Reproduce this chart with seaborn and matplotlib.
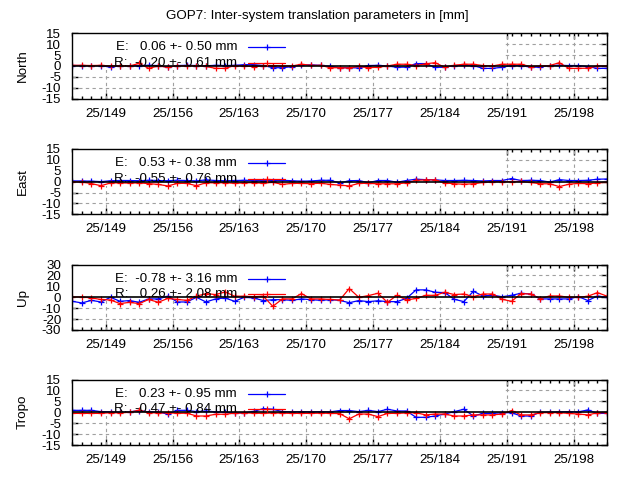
import matplotlib
matplotlib.use("Agg")
import matplotlib.pyplot as plt
import matplotlib.ticker as ticker
from matplotlib.patches import Rectangle
import numpy as np
import seaborn as sns

# %% DATOS
titulo = "GOP7: Inter-system translation parameters in [mm]"

# epocas diarias (mediodia), dia del anio 2025
dias = np.arange(145, 202) + 0.5
dias_tick = [149, 156, 163, 170, 177, 184, 191, 198]
etiquetas_tick = ["25/149", "25/156", "25/163", "25/170", "25/177", "25/184", "25/191", "25/198"]

north_e = [0.2, 0.2, 0.1, 0.2, -0.6, 0.1, 0.0, 0.2, 0.3, 0.2,
           -0.6, 0.2, 0.3, 0.2, 0.1, 0.3, 0.2, 0.3, 0.6, 0.6,
           0.2, -0.8, -0.8, -0.3, 0.5, 0.5, 0.3, -0.2, -0.8, -0.8,
           -0.9, 0.2, 0.3, 0.0, -0.6, -0.5, 1.1, 1.1, -0.6, -0.6,
           0.2, 0.3, 0.2, -1.1, -1.1, -0.6, 0.2, 0.2, -0.6, -0.5,
           0.2, 0.3, 0.2, 0.2, -0.3, -1.1, -1.1]
north_r = [0.3, 0.3, 0.2, 0.3, 0.0, 0.2, 0.0, 1.2, -1.1, 0.0,
           -0.6, 0.1, 0.0, 0.2, -0.2, -1.1, -1.1, 0.2, 0.0, -0.3,
           0.1, 0.2, 0.0, 0.0, 0.8, 0.3, 0.3, -0.8, -0.8, -0.9,
           -0.2, -0.8, -0.6, 0.0, 0.8, 0.8, 0.2, 1.0, 1.5, -0.6,
           0.3, 0.8, 0.8, 0.2, 0.0, 0.8, 0.8, 0.8, -0.3, 0.0,
           0.2, 1.5, -1.1, -1.1, -1.0, 0.0, 0.0]

east_e = [0.3, 0.3, 0.2, 0.0, 0.4, 0.5, 0.5, 0.4, 0.6, 0.5,
          0.4, 0.6, 0.5, 0.3, 0.8, 0.5, 0.4, 0.5, 0.6, 0.5,
          0.4, 0.5, 0.6, 0.4, 0.2, 0.3, 0.6, 0.6, -0.6, 0.4,
          0.5, -0.5, 0.5, 0.5, -0.3, 0.5, 1.1, 0.9, 0.8, 0.5,
          0.5, 0.6, 0.5, 0.3, 0.5, 0.5, 1.4, 0.5, 0.6, 0.5,
          -0.2, 0.9, 0.5, 0.5, 0.6, 1.1, 1.2]
east_r = [0.0, -0.2, -0.9, -1.9, -0.6, -0.6, -0.7, -0.6, -0.9, -1.3,
          -2.0, -0.8, -0.8, -1.9, -0.5, -0.6, -0.5, -0.8, -0.6, -0.5,
          -0.8, -0.3, -1.3, -0.8, -0.8, -1.0, -0.7, -1.3, -1.6, -2.0,
          -0.8, -0.8, -1.0, -1.0, -1.0, -0.6, 0.6, 0.8, 0.8, -0.6,
          -1.0, -1.2, -1.0, -0.4, 0.0, 0.0, 0.0, 0.1, -0.4, -1.0,
          -1.0, -2.3, -1.2, -0.8, -1.0, -0.6, -0.3]

up_e = [-3.7, -5.2, -2.8, -4.3, 0.0, -3.7, -3.0, -4.6, -1.5, -1.5,
        1.0, -4.3, -4.3, 0.0, -4.3, -1.5, -0.6, -3.7, 0.0, -0.6,
        -3.0, -2.2, -2.2, -2.8, -1.5, -2.2, -2.8, -2.2, -2.8, -5.0,
        -3.0, -4.0, -3.2, -4.0, -4.0, -1.0, 6.8, 6.8, 4.6, 4.3,
        -1.8, -4.0, 5.5, 1.2, 2.0, 0.5, 1.8, 3.7, 3.0, -1.5,
        -1.5, -1.5, -1.5, 0.6, -3.0, 1.2, 0.0]
up_r = [0.3, 0.3, -0.6, -2.0, -2.5, -5.8, -4.6, -5.8, -2.0, -4.6,
        -1.0, -2.0, -2.8, 1.0, 3.4, 2.5, 4.9, 1.0, 1.0, 0.5,
        1.0, -8.3, -1.5, -1.5, 3.4, -1.5, -1.5, -2.0, -2.5, 8.0,
        0.0, 1.5, 3.7, -4.6, 1.8, -2.5, -1.0, 1.8, 1.8, 4.6,
        2.5, 3.0, 0.6, 3.0, 3.0, -1.8, -3.7, 3.4, 3.0, -1.2,
        1.2, 1.2, 0.0, 0.0, 1.0, 4.3, 1.0]

tropo_e = [0.9, 0.9, 0.9, 0.3, 0.2, 0.0, 0.2, 0.8, 0.2, 0.1,
           -0.8, 0.9, 0.9, 0.3, 0.6, 0.2, 0.0, -0.3, -0.3, 0.4,
           1.7, 1.4, 0.3, 0.2, 0.3, 0.2, 0.3, 0.2, 0.8, 0.8,
           0.3, 0.9, 0.3, 1.4, 0.6, 0.6, -2.3, -2.3, -1.7, -0.8,
           0.3, 1.4, -1.7, -0.5, -0.5, -0.2, -0.2, -1.7, -1.7, 0.0,
           0.1, 0.2, 0.3, 0.2, 1.1, -0.5, -0.5]
tropo_r = [-0.5, -0.5, -0.5, -0.5, -0.2, -0.3, 0.0, 1.0, -0.2, -0.3,
           -0.2, -0.5, -0.4, -1.7, -1.7, -0.9, -0.9, -0.4, -0.3, -0.4,
           -0.5, -0.3, -0.4, -0.5, -0.5, -0.5, -0.4, -0.5, -0.6, -3.0,
           -0.8, -0.8, -2.0, -0.5, -0.5, -0.3, -0.2, -1.2, -0.8, -0.8,
           -1.7, -1.7, -1.2, -1.2, -1.2, -0.8, 0.8, -1.2, -1.2, -0.2,
           -0.2, -0.2, -0.5, -0.8, -1.2, -0.2, -0.2]

# media y desviacion que muestra la leyenda: (E media, E sd, R media, R sd)
north_stats = (0.06, 0.50, -0.20, 0.61)
east_stats = (0.53, 0.38, -0.55, 0.76)
up_stats = (-0.78, 3.16, 0.26, 2.08)
tropo_stats = (0.23, 0.95, -0.47, 0.84)

paneles = [("North", north_e, north_r, north_stats, 15, 5),
           ("East", east_e, east_r, east_stats, 15, 5),
           ("Up", up_e, up_r, up_stats, 30, 10),
           ("Tropo", tropo_e, tropo_r, tropo_stats, 15, 5)]

# %% GRAFICO
sns.set_theme(style="white")
plt.rcParams['font.family'] = ['Liberation Sans', 'DejaVu Sans']
plt.rcParams['axes.unicode_minus'] = False
tam = 9.6

fig = plt.figure(figsize=(6.4, 4.8), dpi=100)
fig.patch.set_facecolor("white")
fig.text(0.496, 0.967, titulo, ha='center', va='center', fontsize=tam, color="black")

bases = [0.7944, 0.5535, 0.3125, 0.0729]
gris = "#a0a0a0"

for (nombre, serie_e, serie_r, stats, lim, paso), base in zip(paneles, bases):
    ax = fig.add_axes([0.113, base, 0.8355, 0.1363])
    ax.set_facecolor("white")

    # grilla (queda tapada por la caja de la leyenda)
    for d in dias_tick:
        ax.axvline(d, color=gris, lw=0.8, ls=(0, (3, 3)), zorder=0.8)
    for v in np.arange(-lim + paso, lim, paso):
        if v != 0:
            ax.axhline(v, color=gris, lw=0.8, ls=(0, (3, 3)), zorder=0.8)
    ax.add_patch(Rectangle((0, 0.44), 0.807, 0.56, transform=ax.transAxes,
                           facecolor="white", edgecolor="none", zorder=1))

    sns.lineplot(x=dias, y=serie_e, ax=ax, color="blue", lw=0.9, marker="+",
                 markersize=4, markeredgewidth=0.9, markeredgecolor="blue", zorder=2)
    sns.lineplot(x=dias, y=serie_r, ax=ax, color="red", lw=0.9, marker="+",
                 markersize=4, markeredgewidth=0.9, markeredgecolor="red", zorder=2.1)
    ax.axhline(0, color="black", lw=1.2, zorder=2.6)

    # leyenda al estilo gnuplot
    texto_e = f"E:  {stats[0]:5.2f} +- {stats[1]:4.2f} mm"
    texto_r = f"R:  {stats[2]:5.2f} +- {stats[3]:4.2f} mm"
    for txt, yy, col in [(texto_e, 0.785, "blue"), (texto_r, 0.545, "red")]:
        ax.text(0.308, yy, txt, transform=ax.transAxes, ha='right', va='center',
                fontsize=tam, color="black", zorder=3)
        ax.plot([0.329, 0.3635, 0.398], [yy, yy, yy], transform=ax.transAxes,
                color=col, lw=0.9, marker="+", markevery=[1], markersize=4,
                markeredgewidth=0.9, zorder=3)

    ax.set_xlim(145.5, 201.5)
    ax.set_ylim(-lim, lim)
    ax.xaxis.set_major_locator(ticker.FixedLocator(dias_tick))
    ax.xaxis.set_minor_locator(ticker.FixedLocator(dias))
    ax.set_xticklabels(etiquetas_tick)
    ax.set_yticks(np.arange(-lim, lim + 1, paso))
    ax.tick_params(axis='both', which='both', direction='in', top=True, right=True,
                   bottom=True, left=True, color="black", width=1, labelsize=tam,
                   labelcolor="black")
    ax.tick_params(axis='both', which='major', length=4.5)
    ax.tick_params(axis='x', which='minor', length=2.5)
    ax.tick_params(axis='x', pad=6.5)
    ax.tick_params(axis='y', pad=8)
    ax.set_xlabel("")
    ax.set_ylabel("")
    for s in ax.spines.values():
        s.set_color("black")
        s.set_linewidth(1.0)
        s.set_zorder(3)

    fig.text(0.036, base + 0.1363 / 2, nombre, rotation=90, ha='center', va='center',
             fontsize=tam, color="black")

fig.savefig("out.png", dpi=100, facecolor="white")
